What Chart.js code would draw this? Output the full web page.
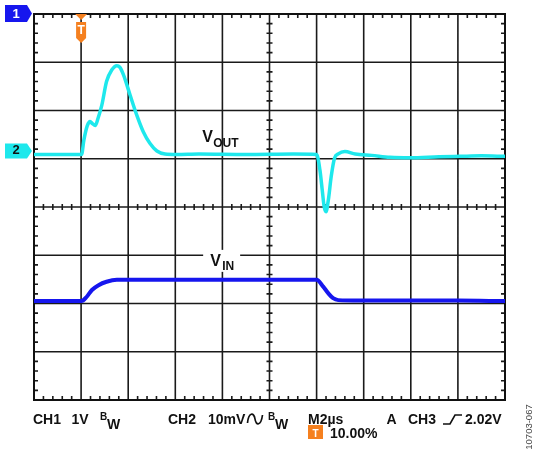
<!DOCTYPE html>
<html>
<head>
<meta charset="utf-8">
<script src="https://cdn.jsdelivr.net/npm/chart.js@4.4.1/dist/chart.umd.min.js"></script>
<style>
  html, body { margin: 0; padding: 0; background: #fff; }
  canvas { display: block; }
</style>
</head>
<body>
<canvas id="scope" width="533" height="450"></canvas>
<script>
// x = time in divisions (M 2us/div), y = level in divisions from the bottom of the screen
const voutTime  = [0, 1.01, 1.06, 1.13, 1.19, 1.24, 1.30, 1.36, 1.44, 1.54, 1.65, 1.76, 1.82, 1.90, 2.04, 2.18, 2.32, 2.46, 2.61, 2.78, 3.03, 3.5, 4.5, 5.5, 6.00, 6.07, 6.12, 6.16, 6.20, 6.25, 6.31, 6.38, 6.46, 6.60, 6.82, 7.17, 7.56, 7.98, 8.6, 9.04, 9.5, 10];
const voutLevel = [5.09, 5.09, 5.39, 5.68, 5.77, 5.73, 5.69, 5.84, 6.11, 6.60, 6.84, 6.93, 6.90, 6.74, 6.32, 5.91, 5.56, 5.32, 5.16, 5.10, 5.09, 5.10, 5.09, 5.10, 5.09, 4.77, 4.35, 4.01, 3.90, 4.15, 4.63, 5.01, 5.10, 5.15, 5.10, 5.07, 5.03, 5.02, 5.04, 5.05, 5.06, 5.05];
const vinTime   = [0, 1.01, 1.12, 1.23, 1.37, 1.54, 1.76, 2.25, 3.5, 4.5, 5.5, 6.00, 6.14, 6.25, 6.35, 6.46, 6.92, 8.0, 9.0, 10];
const vinLevel  = [2.05, 2.05, 2.14, 2.28, 2.38, 2.45, 2.49, 2.49, 2.49, 2.49, 2.49, 2.49, 2.35, 2.21, 2.11, 2.07, 2.06, 2.06, 2.06, 2.05];

const xDivs = 10;
const yDivs = 8;
const triggerTime = 1;
const ch2Level = 5.09;

const CYAN = '#1ee8ec';
const BLUE = '#1616ee';
const ORANGE = '#f5801f';
const FONT = '"Liberation Sans", Arial, sans-serif';

function pentagon(ctx, x0, y0, w, h, tip, fill) {
  ctx.beginPath();
  ctx.moveTo(x0, y0);
  ctx.lineTo(x0 + w, y0);
  ctx.lineTo(x0 + w + tip, y0 + h / 2);
  ctx.lineTo(x0 + w, y0 + h);
  ctx.lineTo(x0, y0 + h);
  ctx.closePath();
  ctx.fillStyle = fill;
  ctx.fill();
}

const scopeScreen = {
  id: 'scopeScreen',
  beforeDatasetsDraw(chart) {
    const { ctx, chartArea: a, scales: { x, y } } = chart;
    ctx.save();
    ctx.strokeStyle = '#1a1a1a';
    ctx.lineWidth = 1.6;
    ctx.beginPath();
    for (let i = 1; i < xDivs; i++) {
      const px = x.getPixelForValue(i);
      ctx.moveTo(px, a.top); ctx.lineTo(px, a.bottom);
    }
    for (let j = 1; j < yDivs; j++) {
      const py = y.getPixelForValue(j);
      ctx.moveTo(a.left, py); ctx.lineTo(a.right, py);
    }
    // minor ticks, 5 per division, on the frame and on the centre lines
    const cx = x.getPixelForValue(xDivs / 2);
    const cy = y.getPixelForValue(yDivs / 2);
    for (let k = 1; k < xDivs * 5; k++) {
      if (k % 5 === 0) continue;
      const px = x.getPixelForValue(k / 5);
      ctx.moveTo(px, a.top); ctx.lineTo(px, a.top + 4);
      ctx.moveTo(px, a.bottom); ctx.lineTo(px, a.bottom - 4);
      ctx.moveTo(px, cy - 3); ctx.lineTo(px, cy + 3);
    }
    for (let k = 1; k < yDivs * 5; k++) {
      if (k % 5 === 0) continue;
      const py = y.getPixelForValue(k / 5);
      ctx.moveTo(a.left, py); ctx.lineTo(a.left + 4, py);
      ctx.moveTo(a.right, py); ctx.lineTo(a.right - 4, py);
      ctx.moveTo(cx - 3, py); ctx.lineTo(cx + 3, py);
    }
    ctx.stroke();
    ctx.lineWidth = 2;
    ctx.strokeStyle = '#111';
    ctx.strokeRect(a.left, a.top, a.right - a.left, a.bottom - a.top);

    // trace labels
    ctx.fillStyle = '#111';
    let lx = x.getPixelForValue(3.57), ly = y.getPixelForValue(5.35);
    ctx.font = 'bold 16px ' + FONT;
    ctx.fillText('V', lx, ly);
    ctx.font = 'bold 12px ' + FONT;
    ctx.fillText('OUT', lx + 11, ly + 5);

    lx = x.getPixelForValue(3.74); ly = y.getPixelForValue(2.78);
    ctx.fillStyle = '#fff';
    ctx.fillRect(lx - 7, ly - 16, 37, 22);
    ctx.fillStyle = '#111';
    ctx.font = 'bold 16px ' + FONT;
    ctx.fillText('V', lx, ly);
    ctx.font = 'bold 12px ' + FONT;
    ctx.fillText('IN', lx + 12, ly + 4);
    ctx.restore();
  },
  afterDraw(chart) {
    const { ctx, chartArea: a, scales: { x, y } } = chart;
    ctx.save();
    ctx.textAlign = 'center';
    ctx.textBaseline = 'middle';

    // channel markers
    pentagon(ctx, 5, a.top - 9, 22, 17, 5, BLUE);
    ctx.fillStyle = '#fff';
    ctx.font = 'bold 13px ' + FONT;
    ctx.fillText('1', 16, a.top);
    const c2 = y.getPixelForValue(ch2Level) - 4;
    pentagon(ctx, 5, c2 - 7, 22, 15, 5, CYAN);
    ctx.fillStyle = '#111';
    ctx.fillText('2', 16, c2 + 0.5);

    // trigger marker
    const tx = x.getPixelForValue(triggerTime);
    ctx.fillStyle = ORANGE;
    ctx.beginPath();
    ctx.moveTo(tx - 6, a.top); ctx.lineTo(tx + 6, a.top); ctx.lineTo(tx, a.top + 6);
    ctx.closePath(); ctx.fill();
    ctx.beginPath();
    ctx.moveTo(tx - 5, a.top + 8); ctx.lineTo(tx + 5, a.top + 8);
    ctx.lineTo(tx + 5, a.top + 24); ctx.lineTo(tx, a.top + 29);
    ctx.lineTo(tx - 5, a.top + 24); ctx.closePath(); ctx.fill();
    ctx.fillStyle = '#fff';
    ctx.font = 'bold 12px ' + FONT;
    ctx.fillText('T', tx, a.top + 17);

    // status line
    ctx.textAlign = 'left';
    ctx.textBaseline = 'alphabetic';
    ctx.fillStyle = '#111';
    const b1 = a.bottom + 24;
    ctx.font = 'bold 14px ' + FONT;
    ctx.fillText('CH1', 33, b1);
    ctx.fillText('1V', 71.5, b1);
    ctx.fillText('CH2', 168, b1);
    ctx.fillText('10mV', 208, b1);
    ctx.fillText('M2µs', 308, b1);
    ctx.fillText('A', 386.5, b1);
    ctx.fillText('CH3', 408, b1);
    ctx.fillText('2.02V', 465, b1);
    ctx.fillText('W', 107, b1 + 5);
    ctx.fillText('W', 275, b1 + 5);
    ctx.font = 'bold 10px ' + FONT;
    ctx.fillText('B', 100, b1 - 4);
    ctx.fillText('B', 268, b1 - 4);

    // AC coupling symbol and rising edge symbol
    ctx.strokeStyle = '#111';
    ctx.lineWidth = 1.7;
    ctx.beginPath();
    ctx.moveTo(247.5, b1 - 1);
    ctx.bezierCurveTo(248.5, b1 - 12, 254, b1 - 12, 255, b1 - 5);
    ctx.bezierCurveTo(256, b1 + 2, 261, b1 + 2, 262.5, b1 - 9);
    ctx.stroke();
    ctx.lineWidth = 1.6;
    ctx.beginPath();
    ctx.moveTo(443, b1); ctx.lineTo(450, b1); ctx.lineTo(455, b1 - 9); ctx.lineTo(462, b1 - 9);
    ctx.stroke();

    // trigger position
    const b2 = b1 + 14;
    ctx.fillStyle = ORANGE;
    ctx.fillRect(308, b2 - 13, 15, 14);
    ctx.fillStyle = '#fff';
    ctx.textAlign = 'center';
    ctx.fillText('T', 315.5, b2 - 1);
    ctx.textAlign = 'left';
    ctx.fillStyle = '#111';
    ctx.font = 'bold 14px ' + FONT;
    ctx.fillText('10.00%', 330, b2);

    // figure id
    ctx.translate(529, 427);
    ctx.rotate(-Math.PI / 2);
    ctx.textAlign = 'center';
    ctx.textBaseline = 'middle';
    ctx.fillStyle = '#444';
    ctx.font = '9.5px ' + FONT;
    ctx.fillText('10703-067', 0, 0);
    ctx.restore();
  }
};

const toPoints = (xs, ys) => xs.map((t, i) => ({ x: t, y: ys[i] }));

new Chart(document.getElementById('scope').getContext('2d'), {
  type: 'line',
  data: {
    datasets: [{
      label: 'VOUT',
      data: toPoints(voutTime, voutLevel),
      borderColor: CYAN,
      borderWidth: 3.5,
      pointRadius: 0,
      cubicInterpolationMode: 'monotone',
      borderJoinStyle: 'round',
      borderCapStyle: 'round'
    }, {
      label: 'VIN',
      data: toPoints(vinTime, vinLevel),
      borderColor: BLUE,
      borderWidth: 4,
      pointRadius: 0,
      cubicInterpolationMode: 'monotone',
      borderJoinStyle: 'round'
    }]
  },
  options: {
    responsive: false,
    animation: false,
    devicePixelRatio: 1,
    layout: { padding: { left: 34, right: 28, top: 14, bottom: 50 } },
    scales: {
      x: { type: 'linear', min: 0, max: xDivs, display: false },
      y: { type: 'linear', min: 0, max: yDivs, display: false }
    },
    plugins: {
      legend: { display: false },
      tooltip: { enabled: false }
    }
  },
  plugins: [scopeScreen]
});
</script>
</body>
</html>
